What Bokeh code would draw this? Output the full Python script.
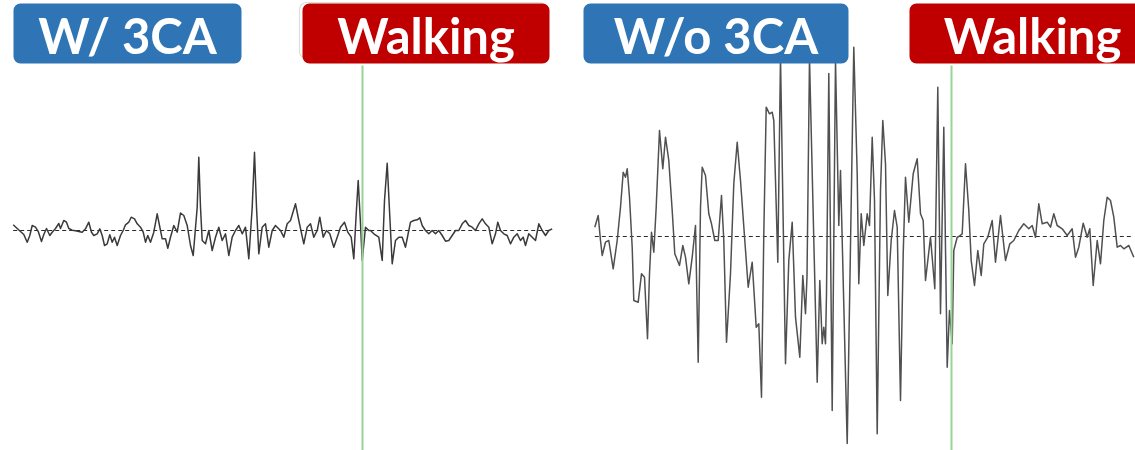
from bokeh.plotting import figure
from bokeh.models import Range1d, BoxAnnotation, Label
from bokeh.layouts import row
from bokeh.embed import file_html
from bokeh.resources import INLINE

# ---------------------------------------------------------------------------
# EMG traces (sample index, amplitude in arbitrary units, 0 = resting baseline)
# ---------------------------------------------------------------------------
with_t = [12.7, 16.7, 20, 23.3, 26.7, 29.3, 31.7, 35, 38, 41, 43.3, 46, 49.3, 51.7, 55, 58.3, 60,
          63.3, 66, 68.3, 71.7, 75, 78.3, 81.7, 85, 88.3, 91, 93.3, 96.7, 99.3, 101.7, 104, 106.7,
          109.3, 111.7, 114, 116.7, 120, 122.7, 125, 128.3, 130.7, 134, 136.7, 140, 142.7, 145,
          147.3, 150, 153.3, 156.7, 159, 161.7, 165, 167.3, 170, 173.3, 176.7, 180, 183.3, 186.7,
          190, 192.7, 196.7, 198.3, 200, 201.7, 205, 208.3, 211.7, 215, 218.3, 221.7, 225, 228.3,
          231.7, 235, 238.3, 241.7, 245, 248.3, 251.7, 254, 256, 258.3, 261.7, 265, 268.3, 271.7,
          275, 276.7, 280, 283.3, 286.7, 290, 295, 298.3, 303.3, 306.7, 310, 313.3, 316.7, 319.3,
          322.7, 326, 329.3, 333.3, 336.7, 340, 344, 347.3, 350.7, 353.3, 355.7, 357.7, 360, 361.7,
          365, 368.3, 370, 373.3, 378.3, 381.7, 384, 386.7, 389, 391.7, 395, 398.3, 401.7, 405,
          407.3, 410, 413.3, 416.7, 419.3, 421.7, 425, 428.3, 431.7, 435, 438.3, 441.7, 445, 448.3,
          451.7, 455, 458.3, 461.7, 465, 468.3, 471.7, 475, 478.3, 481.7, 485, 488.3, 491.7, 495,
          497.3, 500, 503.3, 506.7, 510, 513.3, 516.7, 520, 522.7, 525, 528.3, 531.7, 535, 538.3,
          541.7, 545, 548.3, 551.7]
with_amp = [5.7, 2, -1, -4, -11.7, -5, 5, 3.3, -1.7, -11, -4, 2, -5, -1.7, 2, 7, 2,
            10, 8.3, 2, 0.3, -0.3, -1, -1.7, 1.7, 8.3, -1.7, -5, -3.3, 1.7, -5, -15, -13.3,
            -4.3, -11.7, -6.7, -15, -5, 0, 5.7, 8.3, 13.3, 11.7, 6.7, 3.3, -1.7, -11.7,
            -5, -11.7, -1.7, 16.7, 5, -8.3, -8.3, -17.7, -6.7, 5, -1.7, 17.5, 15, 5,
            -15, -25, 23.3, 73.3, 23.3, -10, -13.3, 0, -20, -6.7, 3.3, -10, -3.3, -25,
            -6.7, 0, 5, -3.3, 3.3, -28.3, 23.3, 78.3, 23.3, -23.3, 3.3, 6.7, -16.7, 0,
            5, 3.3, 0, -6.7, 6.7, 10, 26.7, 10, -13.3, 3.3, 6.7, -6.7, 0, 13.3,
            -6.7, 0, -3.3, -16.7, -6.7, 3.3, 8.3, -1.7, -6.7, -28.3, 16.7, 50, 6.7, -30,
            3.3, 0, 0, -3.3, -6.7, -30, 30, 67.3, 20, -33.3, -10, -6.7, -6.7, -16.7,
            -5, 8.3, 10, 10.7, 12.7, 5, 0, -3.3, 0, -3.3, 0, -5, -10.7, -10,
            -5, 0, 0, 6.7, 10, 5, 3.3, 0, 6.7, 11.7, 6.7, 3.3, -13.3, -3.3,
            8.3, 0, -3.3, -5, -13.3, -6.7, -3.3, -10, -6.7, -15, -3.3, -6.7, -10, 6.7,
            0, -5, 0, 1.7]

without_t = [19.3, 22.7, 25, 26.7, 30, 33.3, 37.7, 41.7, 45, 47.7, 50, 51.7, 54, 56.7, 58.3,
             62.7, 66, 69, 72, 74, 76, 78.3, 80.7, 84, 87.3, 90, 93.3, 96.7, 99.3, 104, 107.3,
             110, 113.3, 116.7, 120, 122.7, 125, 126.7, 130, 133.3, 136, 139.3, 142.7, 146, 148.3,
             151, 155, 158.3, 161.7, 165, 169.3, 172.7, 176.7, 180.7, 183.3, 186, 188.3, 190.7,
             194, 196.7, 198.3, 200, 202.3, 205, 210, 213.3, 216.7, 220, 224.3, 227.3, 230, 231.5,
             234, 241.7, 244.3, 246.7, 248.3, 250, 251, 253.3, 256.7, 260, 263.3, 265, 271.7,
             278.3, 281.7, 283.3, 285.7, 288.3, 291.7, 294, 296.7, 299, 301.7, 305, 307.3, 310,
             312.3, 315.7, 319, 321.7, 325, 327.7, 330, 333.3, 337.7, 341.7, 345, 347.7, 350,
             355, 359.3, 362.3, 365, 368.3, 371.7, 374, 376.7, 378.3, 381.7, 383.3, 386.7, 390,
             393.3, 395.7, 399, 402.3, 405.7, 408.3, 412.3, 416.7, 420, 425, 430, 434.3, 438.3,
             443.3, 448.3, 453.3, 456.7, 460, 463.3, 466.7, 471.7, 475, 478.3, 481.7, 486.7,
             491.7, 496.7, 500, 503.3, 507.7, 511.7, 514.3, 517.7, 521.7, 525, 528.3, 531.7,
             535, 538.3, 541.7, 545, 548.3, 553.3, 558.3]
without_amp = [9.3, 21, -4, -19, -5.7, -4, -32.3, -4, 29.3, 64.3, 59.3, 67.7, 39.3, -10.7, -64,
               -65.7, -37.3, -40.7, -102.3, -37.3, 4.3, -15.7, 29.3, 106, 67.7, 99.3, 76, 26, -17.3,
               -29, -9, -20.7, -47.3, -20.7, 11, -125.7, 29.3, 69.3, 61, 22.7, 12.7, -4, -4, 41, -4,
               -105.7, -37.3, 52.7, 94.3, 56, -4, -50.7, -25.7, -90.7, -87.3, -160.7, 2.7, 129.3,
               122.7, 124.3, 116, 56, -25.7, 180, -127.3, -24, 14.3, -80.7, -120.7, -39, -77.3, -40,
               178, -145.7, -44, -107.3, -90.7, -107.3, -57.3, 163, -174, 176, 11, 66, -207,
               189.3, 62.7, -47.3, 22.7, -9, 22.7, 11, 99.3, 36, -197.3, 46, 116, 72.7,
               -59, -4, 26, 9.3, -164, -17.3, 59.3, 14.3, 62.7, 77.7, 22.7, 16, -44,
               -0.7, -52.3, 149.3, -77.3, 109.3, -130.7, -74, -107.3, -14, -0.7, 0, 2.7, 72.7,
               26, -24, -49, -14, -39, -7.3, -0.7, 16, -25.7, 21, -24, -7.3, -4, 6,
               12.7, 7.7, 11, -0.7, 32.7, 12.7, 14.3, 9.3, 22.7, 11, 7.7, 1, 7.7,
               -20.7, -10.7, 13.3, -0.7, 7.7, -49, -4, -27.3, 16, 39.3, 36, 19.3,
               -10.7, -9, -12.3, -9, -20.7]

# walking onset (sample index) for each recording
with_onset = 362
without_onset = 376

with_labels = ["W/ 3CA", "Walking"]
without_labels = ["W/o 3CA", "Walking"]

BLUE = "#2f75b5"
RED = "#c00000"
ONSET_GREEN = "#96d596"
FONT = "Lato"


def panel(width, x_end, y_lo, y_hi, t, amp, onset, labels, boxes, line_w, line_col):
    p = figure(width=width, height=450, output_backend="svg", toolbar_location=None,
               x_range=Range1d(0, x_end), y_range=Range1d(y_lo, y_hi),
               min_border=0, outline_line_color=None, background_fill_color="white",
               border_fill_color="white")
    p.axis.visible = False
    p.grid.visible = False

    # resting baseline
    p.segment(x0=[t[0]], y0=[0], x1=[t[-1]], y1=[0], line_color="#2a2a2a",
              line_width=1.2, line_dash="4 3")
    # EMG trace
    p.line(t, amp, line_color=line_col, line_width=line_w, line_join="round")

    # label boxes and their captions
    (bl, br, rl, rr, btop, bbot) = boxes
    p.segment(x0=[onset], y0=[y_lo], x1=[onset], y1=[bbot - 2], line_color=ONSET_GREEN,
              line_width=2)
    for (l, r, col), text in zip([(bl, br, BLUE), (rl, rr, RED)], labels):
        p.add_layout(BoxAnnotation(left=l, right=r, top=btop, bottom=bbot, fill_color=col,
                                   fill_alpha=1, line_color=None, border_radius=7))
        p.add_layout(Label(x=(l + r) / 2, y=(btop + bbot) / 2 - 1, text=text,
                           text_align="center", text_baseline="middle", text_color="white",
                           text_font=FONT, text_font_style="bold", text_font_size="49px"))
    return p


left = panel(575, 575, -220, 230, with_t, with_amp, with_onset, with_labels,
             (13, 241, 302, 549, 227, 167), 1.5, "#3a3a3a")
# thin outline peeking out behind the left "Walking" box
left.center.insert(0, BoxAnnotation(left=299, right=546, top=228, bottom=172, fill_alpha=0,
                                    line_color="#7d9c72", line_width=1.2, border_radius=7))

right = panel(560, 560, -214, 236, without_t, without_amp, without_onset, without_labels,
              (8, 273, 334, 580, 233, 173), 1.5, "#505050")

layout = row(left, right, spacing=0)
open("out.html", "w").write(file_html(layout, INLINE))
